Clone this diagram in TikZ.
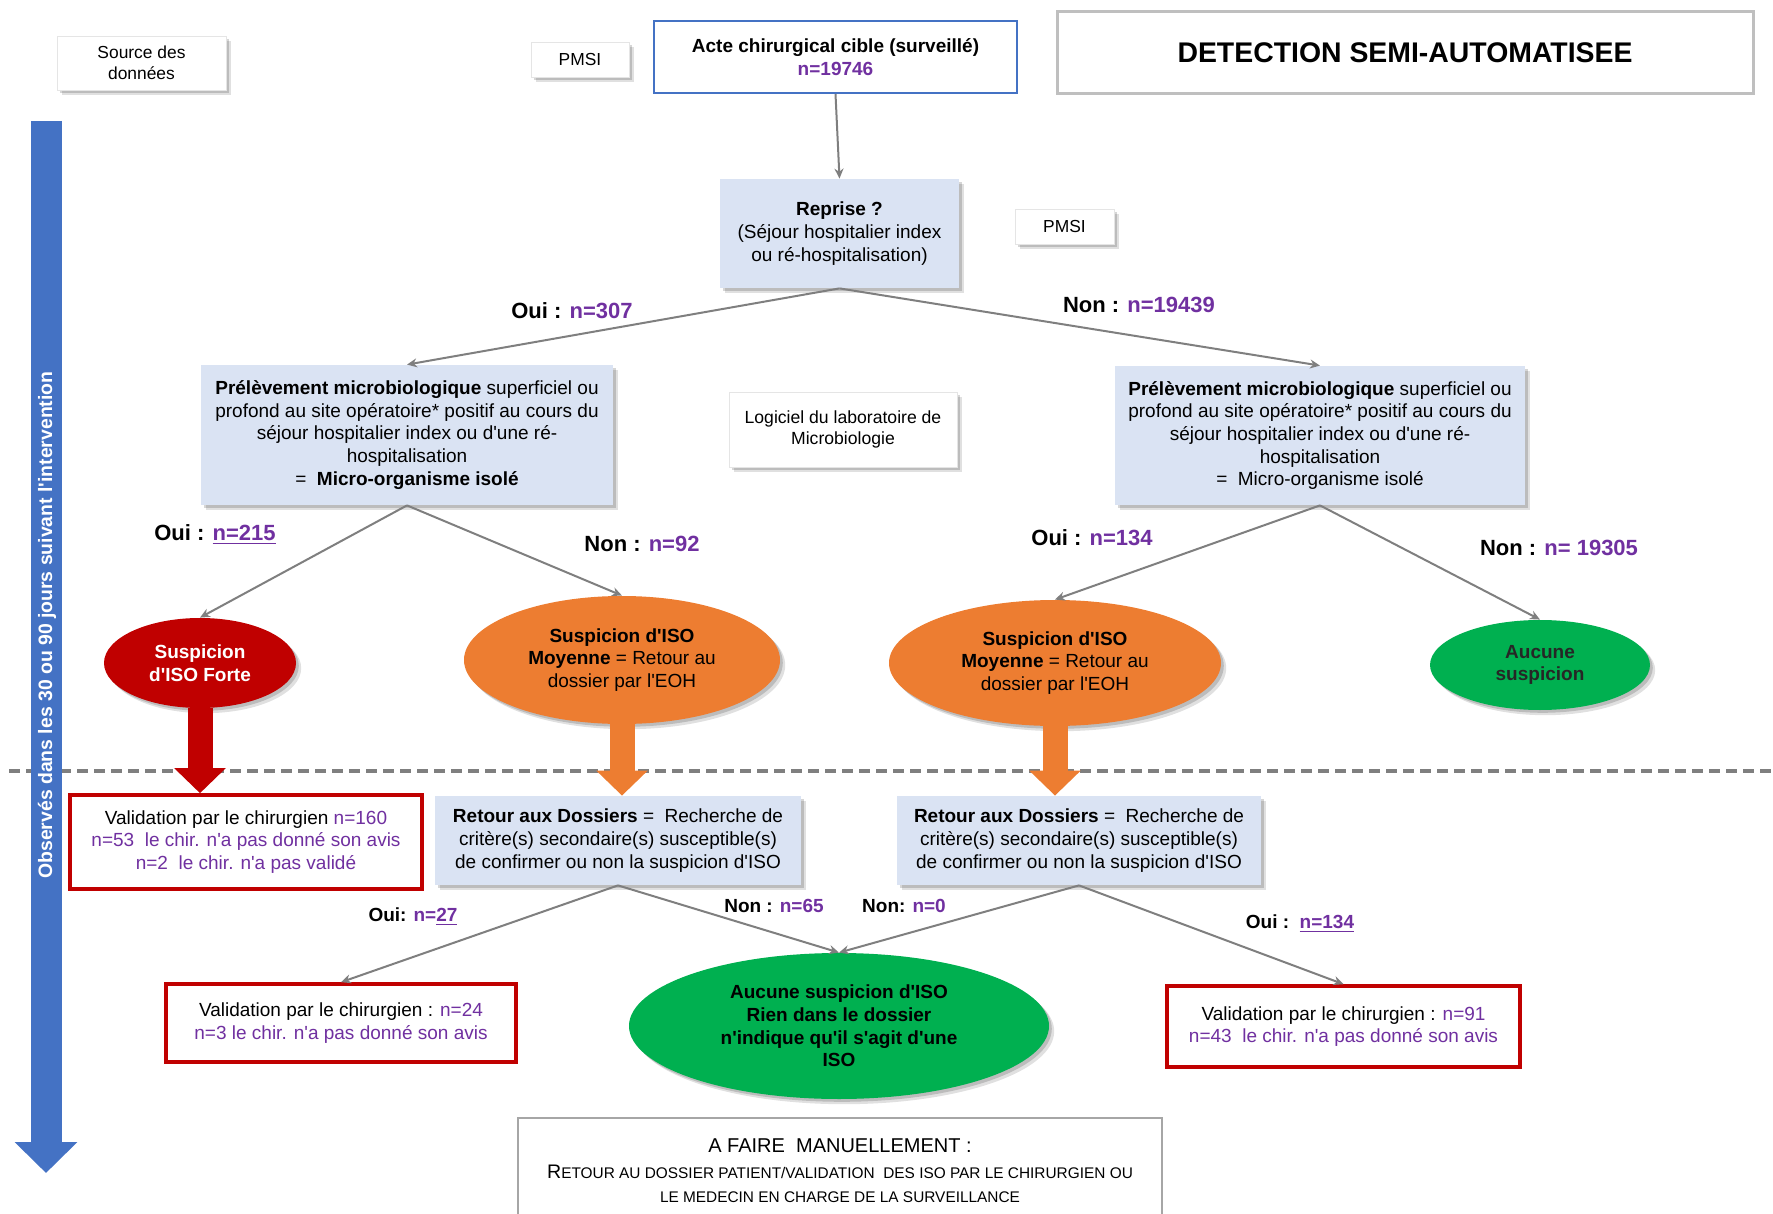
\documentclass[tikz,border=0pt]{standalone}
\usepackage{fontspec}
\setmainfont{Liberation Sans}[Ligatures=TeXOff]
\usetikzlibrary{arrows.meta,shapes.geometric,shadows}
\definecolor{boxblue}{HTML}{DAE3F3}
\definecolor{purp}{HTML}{7030A0}
\definecolor{redA}{HTML}{C00000}
\definecolor{orangeA}{HTML}{ED7D31}
\definecolor{greenA}{HTML}{00B050}
\definecolor{blueA}{HTML}{4472C4}
\definecolor{connGray}{HTML}{7F7F7F}
\definecolor{titleGray}{HTML}{BFBFBF}
\definecolor{faireGray}{HTML}{A6A6A6}
\begin{document}
\begin{tikzpicture}[x=0.5pt,y=-0.5pt,
  txt/.style={font=\fontsize{9.5}{11.3}\selectfont, align=center, inner sep=2pt},
  shad/.style={drop shadow={shadow xshift=1.4pt, shadow yshift=-1.4pt, fill=black, opacity=0.16},
               drop shadow={shadow xshift=2.6pt, shadow yshift=-2.6pt, fill=black, opacity=0.12}},
  shbox/.style={txt, fill=white, draw=black!10, line width=0.4pt, shad},
  srcbox/.style={shbox, font=\fontsize{8.7}{10.5}\selectfont},
  bluebox/.style={shbox, fill=boxblue, draw=none},
  valbox/.style={txt, draw=redA, line width=1.8pt, fill=white},
  ell/.style={ellipse, txt, inner sep=0pt, shad, font=\bfseries\fontsize{9.5}{11.3}\selectfont},
  lbl/.style={font=\bfseries\fontsize{11}{13}\selectfont, inner sep=1pt},
  lbls/.style={font=\bfseries\fontsize{9.5}{11}\selectfont, inner sep=1pt},
  conn/.style={draw=connGray, line width=1pt, -{Stealth[length=5pt,width=4.5pt]}},
  blockarrow/.style={line width=12.5pt, -{Triangle[length=12.5pt,width=25pt]}},
  dashline/.style={draw=connGray, line width=1.6pt, dash pattern=on 5.5pt off 3pt}
]
\useasboundingbox (0,0) rectangle (1773,1214);
\clip (0,0) rectangle (1773,1214);

% top row
\node[srcbox, minimum width=84.5pt, minimum height=27pt] (src) at (141.5,63) {Source des\\données};
\node[srcbox, minimum width=49pt, minimum height=17.5pt] (pmsi1) at (580,59.5) {PMSI};
\node[txt, draw=blueA, line width=1pt, fill=white, minimum width=181.5pt, minimum height=36pt,
      font=\bfseries\fontsize{9.5}{11.3}\selectfont] (acte) at (835.5,57)
      {Acte chirurgical cible (surveillé)\\\textcolor{purp}{n=19746}};
\node[draw=titleGray, line width=1.5pt, minimum width=348pt, minimum height=41pt,
      font=\bfseries\fontsize{14.2}{16}\selectfont] (title) at (1405,53) {DETECTION SEMI-AUTOMATISEE};

% level 1
\node[bluebox, minimum width=119.5pt, minimum height=54.5pt] (reprise) at (839.5,233.5)
  {\textbf{Reprise ?}\\(Séjour hospitalier index\\ou ré-hospitalisation)};
\node[srcbox, minimum width=49.5pt, minimum height=17.5pt] (pmsi2) at (1064.5,226.5) {PMSI};

% level 2
\node[bluebox, minimum width=206pt, minimum height=70pt] (prelL) at (407,435)
  {\textbf{Prélèvement microbiologique} superficiel ou\\profond au site opératoire* positif au cours du\\séjour hospitalier index ou d'une ré-\\hospitalisation\\=\ \ \textbf{Micro-organisme isolé}};
\node[srcbox, font=\fontsize{8.8}{10.6}\selectfont, minimum width=114pt, minimum height=37.5pt] (logi) at (843,429.5)
  {Logiciel du laboratoire de\\Microbiologie};
\node[bluebox, minimum width=205pt, minimum height=69.5pt] (prelR) at (1320,435.5)
  {\textbf{Prélèvement microbiologique} superficiel ou\\profond au site opératoire* positif au cours du\\séjour hospitalier index ou d'une ré-\\hospitalisation\\=\ \ Micro-organisme isolé};

% ellipses
\node[ell, fill=redA, text=white, minimum width=96pt, minimum height=45pt] (forte) at (200,663)
  {Suspicion\\d'ISO Forte};
\node[ell, fill=orangeA, minimum width=158pt, minimum height=64pt] (moyL) at (622,660)
  {Suspicion d'ISO\\Moyenne \textmd{= Retour au}\\\textmd{dossier par l'EOH}};
\node[ell, fill=orangeA, minimum width=166pt, minimum height=63pt] (moyR) at (1055,663)
  {Suspicion d'ISO\\Moyenne \textmd{= Retour au}\\\textmd{dossier par l'EOH}};
\node[ell, fill=greenA, text=black!85, minimum width=110pt, minimum height=45pt] (aucune) at (1540,665)
  {Aucune\\suspicion};

% level 3
\node[valbox, minimum width=176pt, minimum height=47pt] (val1) at (246,842)
  {Validation par le chirurgien \textcolor{purp}{n=160}\\\textcolor{purp}{n=53\ \ le chir. n'a pas donné son avis}\\\textcolor{purp}{n=2\ \ le chir. n'a pas validé}};
\node[bluebox, minimum width=183pt, minimum height=44.5pt] (retL) at (618,840.5)
  {\textbf{Retour aux Dossiers} =\ \ Recherche de\\critère(s) secondaire(s) susceptible(s)\\de confirmer ou non la suspicion d'ISO};
\node[bluebox, minimum width=182pt, minimum height=44.5pt] (retR) at (1079,840.5)
  {\textbf{Retour aux Dossiers} =\ \ Recherche de\\critère(s) secondaire(s) susceptible(s)\\de confirmer ou non la suspicion d'ISO};

% level 4
\node[valbox, minimum width=175pt, minimum height=39pt] (val2) at (341,1023)
  {Validation par le chirurgien : \textcolor{purp}{n=24}\\\textcolor{purp}{n=3 le chir. n'a pas donné son avis}};
\node[ell, fill=greenA, minimum width=210pt, minimum height=73pt] (rien) at (839,1026)
  {Aucune suspicion d'ISO\\Rien dans le dossier\\n'indique qu'il s'agit d'une\\ISO};
\node[valbox, minimum width=176.5pt, minimum height=40.5pt] (val3) at (1343.5,1026.5)
  {Validation par le chirurgien : \textcolor{purp}{n=91}\\\textcolor{purp}{n=43\ \ le chir. n'a pas donné son avis}};

% A faire manuellement
\node[draw=faireGray, line width=1pt, fill=white, minimum width=322pt, minimum height=62pt, anchor=north] (faire) at (840,1117) {};
\node[anchor=north, align=center, inner sep=0pt, font=\fontsize{10}{12}\selectfont] (fairetxt) at ([yshift=-10.5pt]faire.north)
  {A FAIRE\ \ MANUELLEMENT :\\[1pt]
   {\fontsize{9.8}{12}\selectfont R}{\fontsize{7.7}{12}\selectfont ETOUR AU DOSSIER PATIENT/VALIDATION\ \ DES ISO PAR LE CHIRURGIEN OU}\\
   {\fontsize{7.7}{12}\selectfont LE MEDECIN EN CHARGE DE LA SURVEILLANCE}};

% labels
\node[lbl] (lOui307) at (572,311) {Oui : \textcolor{purp}{n=307}};
\node[lbl] (lNon19439) at (1139,305) {Non : \textcolor{purp}{n=19439}};
\node[lbl] (lOui215) at (215,535) {Oui : \textcolor{purp}{\underline{n=215}}};
\node[lbl] (lNon92) at (642,544) {Non : \textcolor{purp}{n=92}};
\node[lbl] (lOui134) at (1092,538) {Oui : \textcolor{purp}{n=134}};
\node[lbl] (lNon19305) at (1559,548) {Non : \textcolor{purp}{n= 19305}};
\node[lbls] (lOui27) at (413,917) {Oui: \textcolor{purp}{n=\underline{27}}};
\node[lbls] (lNon65) at (774,906) {Non : \textcolor{purp}{n=65}};
\node[lbls] (lNon0) at (904,906) {Non: \textcolor{purp}{n=0}};
\node[lbls] (lOui134b) at (1300,924) {Oui :\ \ \textcolor{purp}{\underline{n=134}}};

% dashed separator
\coordinate (dashL) at (9,771);
\coordinate (dashR) at (1773,771);
\draw[dashline] (dashL) -- (dashR);

% time arrow
\coordinate (tTop) at (46,121);
\coordinate (tBot) at (46,1173);
\draw[draw=blueA, line width=15.5pt, -{Triangle[length=15.5pt,width=30.5pt]}] (tTop) -- (tBot);
\node[rotate=90, text=white, inner sep=0pt, font=\bfseries\fontsize{9.7}{11}\selectfont] (obs) at (47,625)
  {Observés dans les 30 ou 90 jours suivant l'intervention};

% block arrows
\draw[blockarrow, draw=redA] (forte.south) -- (forte.south |- val1.north);
\draw[blockarrow, draw=orangeA] (moyL.south) -- (moyL.south |- retL.north);
\draw[blockarrow, draw=orangeA] (moyR.south) -- (moyR.south |- retR.north);

% connectors
\draw[conn] (acte.south) -- (reprise.north);
\draw[conn] (reprise.south) -- (prelL.north);
\draw[conn] (reprise.south) -- (prelR.north);
\draw[conn] (prelL.south) -- (forte.north);
\draw[conn] (prelL.south) -- (moyL.north);
\draw[conn] (prelR.south) -- (moyR.north);
\draw[conn] (prelR.south) -- (aucune.north);
\draw[conn] (retL.south) -- (val2.north);
\draw[conn] (retL.south) -- (rien.north);
\draw[conn] (retR.south) -- (rien.north);
\draw[conn] (retR.south) -- (val3.north);
\end{tikzpicture}
\end{document}
